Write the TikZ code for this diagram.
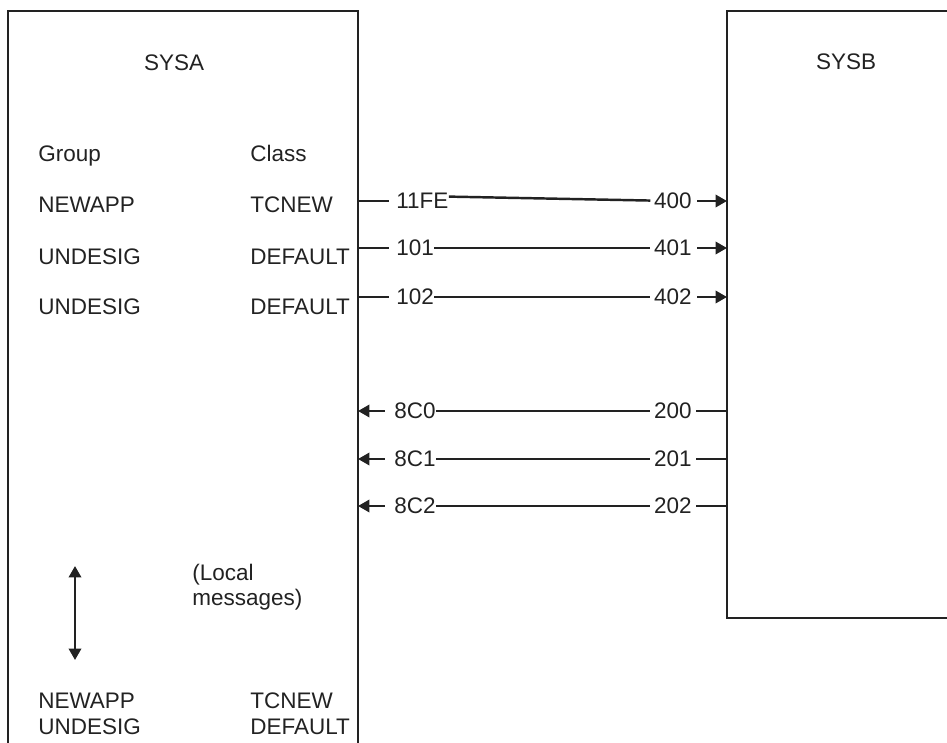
\documentclass[tikz,border=0pt]{standalone}
\usepackage{fontspec}
\setmainfont{Liberation Sans}
\usetikzlibrary{arrows.meta,positioning}

\definecolor{ink}{HTML}{222222}

\tikzset{
  lbl/.style={inner sep=0, text=ink, font=\fontsize{12.8}{14.2}\selectfont},
  wire/.style={draw=ink, line width=1.4pt},
  >={Triangle[length=6.5pt,width=7pt]}
}

\begin{document}
\begin{tikzpicture}[x=0.02cm, y=-0.02cm]

        \useasboundingbox (0, 0) rectangle (947, 743);

        % the two systems, both cut off by the page edge
        \draw[wire] (8, 743) -- (8, 11) -- (358, 11) -- (358, 743);
        \draw[wire] (947, 11) -- (727, 11) -- (727, 618) -- (947, 618);
        \node[lbl] (sysa) at (174, 63) {SYSA};
        \node[lbl] (sysb) at (846, 62) {SYSB};

        % group / class table
        \node[lbl, anchor=base west] (grp) at (38, 162) {Group};
        \node[lbl, anchor=base west] (cls) at (250, 162) {Class};
        \node[lbl, anchor=base west] (g1) at (38, 213) {NEWAPP};
        \node[lbl, anchor=base west] (c1) at (250, 213) {TCNEW};
        \node[lbl, anchor=base west] (g2) at (38, 265) {UNDESIG};
        \node[lbl, anchor=base west] (c2) at (250, 265) {DEFAULT};
        \node[lbl, anchor=base west] (g3) at (38, 315) {UNDESIG};
        \node[lbl, anchor=base west] (c3) at (250, 315) {DEFAULT};

        % outbound paths SYSA -> SYSB
        \coordinate (a1) at (358, 201);
        \coordinate (b1) at (727, 201);
        \node[lbl, anchor=west] (s1) at (396, 201) {11FE};
        \node[lbl, anchor=east] (r1) at (692, 201) {400};
        \draw[wire, shorten >=4pt] (a1) -- (s1);
        \draw[wire, shorten >=2pt] ([yshift=2.5pt]s1.east) -- (r1);
        \draw[wire, ->, shorten <=3pt] (r1) -- (b1);

        \coordinate (a2) at (358, 248);
        \coordinate (b2) at (727, 248);
        \node[lbl, anchor=west] (s2) at (396, 248) {101};
        \node[lbl, anchor=east] (r2) at (692, 248) {401};
        \draw[wire, shorten >=4pt] (a2) -- (s2);
        \draw[wire, shorten >=2pt] (s2) -- (r2);
        \draw[wire, ->, shorten <=3pt] (r2) -- (b2);

        \coordinate (a3) at (358, 297);
        \coordinate (b3) at (727, 297);
        \node[lbl, anchor=west] (s3) at (396, 297) {102};
        \node[lbl, anchor=east] (r3) at (692, 297) {402};
        \draw[wire, shorten >=4pt] (a3) -- (s3);
        \draw[wire, shorten >=2pt] (s3) -- (r3);
        \draw[wire, ->, shorten <=3pt] (r3) -- (b3);

        % inbound paths SYSB -> SYSA
        \coordinate (a4) at (358, 411);
        \coordinate (b4) at (727, 411);
        \node[lbl, anchor=west] (s4) at (394, 411) {8C0};
        \node[lbl, anchor=east] (r4) at (692, 411) {200};
        \draw[wire, <-, shorten >=5pt] (a4) -- (s4);
        \draw[wire, shorten >=2pt] (s4) -- (r4);
        \draw[wire, shorten <=2.5pt] (r4) -- (b4);

        \coordinate (a5) at (358, 459);
        \coordinate (b5) at (727, 459);
        \node[lbl, anchor=west] (s5) at (394, 459) {8C1};
        \node[lbl, anchor=east] (r5) at (692, 459) {201};
        \draw[wire, <-, shorten >=5pt] (a5) -- (s5);
        \draw[wire, shorten >=2pt] (s5) -- (r5);
        \draw[wire, shorten <=2.5pt] (r5) -- (b5);

        \coordinate (a6) at (358, 506);
        \coordinate (b6) at (727, 506);
        \node[lbl, anchor=west] (s6) at (394, 506) {8C2};
        \node[lbl, anchor=east] (r6) at (692, 506) {202};
        \draw[wire, <-, shorten >=5pt] (a6) -- (s6);
        \draw[wire, shorten >=2pt] (s6) -- (r6);
        \draw[wire, shorten <=2.5pt] (r6) -- (b6);

        % local traffic inside SYSA
        \coordinate (up) at (75, 566);
        \coordinate (down) at (75, 660);
        \draw[wire, <->] (up) -- (down);
        \node[lbl, anchor=base west, align=left] (loc) at (192, 605) {(Local\\messages)};

        \node[lbl, anchor=base west] (g4) at (38, 708) {NEWAPP};
        \node[lbl, anchor=base west] (c4) at (250, 708) {TCNEW};
        \node[lbl, anchor=base west] (g5) at (38, 734) {UNDESIG};
        \node[lbl, anchor=base west] (c5) at (250, 734) {DEFAULT};
      \end{tikzpicture}
\end{document}
